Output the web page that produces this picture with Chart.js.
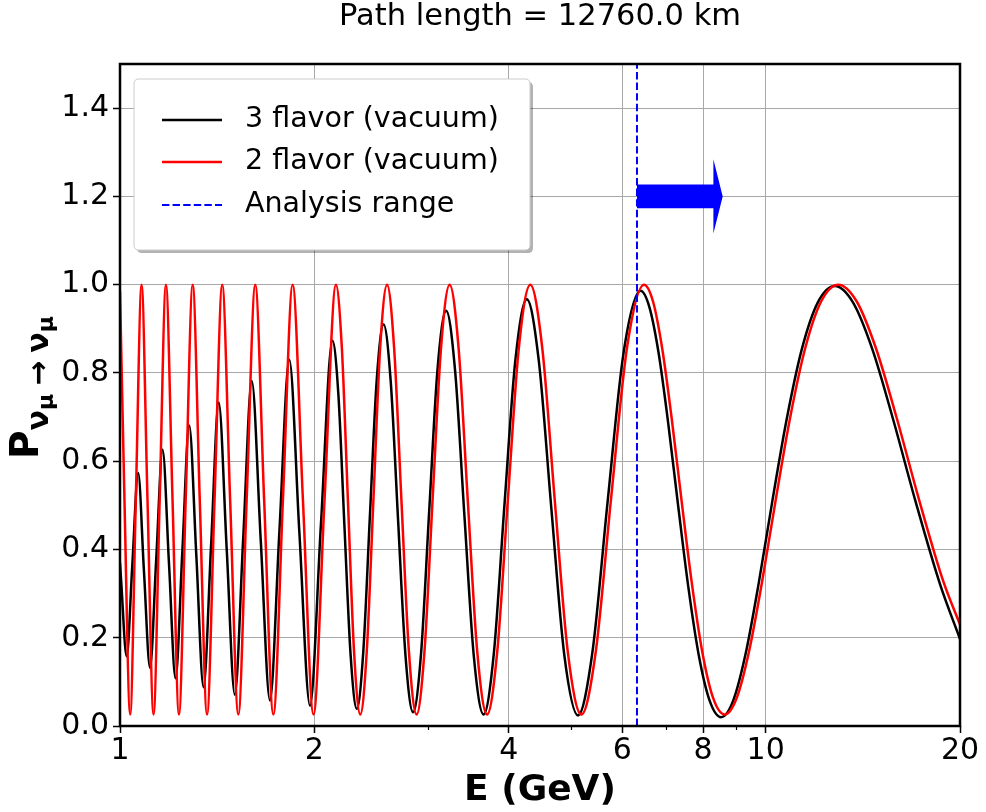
<!DOCTYPE html>
<html>
<head>
<meta charset="utf-8">
<title>Muon neutrino survival probability</title>
<script src="https://cdn.jsdelivr.net/npm/chart.js@4.4.1/dist/chart.umd.min.js"></script>
<style>
  html, body { margin: 0; padding: 0; background: #ffffff; }
  canvas { display: block; }
</style>
</head>
<body>
<canvas id="probChart" width="986" height="812"></canvas>
<script>
// energies (GeV) and survival probability, 3 flavour vacuum curve
const flav3E = [1.000, 1.004, 1.024, 1.045, 1.067, 1.089, 1.113, 1.138, 1.164, 1.191,
  1.219, 1.249, 1.280, 1.313, 1.347, 1.384, 1.422, 1.463, 1.506, 1.552,
  1.600, 1.652, 1.707, 1.766, 1.829, 1.896, 1.969, 2.048, 2.133, 2.179,
  2.226, 2.276, 2.327, 2.381, 2.438, 2.498, 2.560, 2.626, 2.695, 2.768,
  2.844, 2.926, 3.012, 3.103, 3.200, 3.303, 3.413, 3.531, 3.657, 3.793,
  3.938, 4.096, 4.267, 4.452, 4.655, 4.876, 5.120, 5.389, 5.689, 6.024,
  6.400, 6.606, 6.827, 7.062, 7.314, 7.585, 7.877, 8.192, 8.533, 8.904,
  9.309, 9.752, 10.240, 10.779, 11.378, 12.047, 12.800, 13.653, 14.629, 15.754,
  17.067, 18.618, 20.000];
const flav3P = [0.370, 0.330, 0.158, 0.366, 0.573, 0.353, 0.132, 0.379, 0.626, 0.367,
  0.108, 0.395, 0.681, 0.385, 0.088, 0.411, 0.733, 0.402, 0.071, 0.427,
  0.782, 0.420, 0.058, 0.444, 0.830, 0.438, 0.046, 0.460, 0.873, 0.751,
  0.456, 0.161, 0.039, 0.167, 0.475, 0.783, 0.910, 0.781, 0.471, 0.160,
  0.031, 0.164, 0.486, 0.808, 0.941, 0.807, 0.484, 0.160, 0.026, 0.164,
  0.497, 0.829, 0.967, 0.829, 0.496, 0.162, 0.024, 0.165, 0.505, 0.845,
  0.986, 0.949, 0.845, 0.688, 0.503, 0.318, 0.161, 0.057, 0.020, 0.057,
  0.163, 0.322, 0.509, 0.695, 0.854, 0.960, 0.997, 0.960, 0.854, 0.695,
  0.509, 0.322, 0.197];

// 2 flavour vacuum curve
const flav2E = [1.000, 1.016, 1.037, 1.058, 1.080, 1.103, 1.127, 1.152, 1.178, 1.206,
  1.234, 1.264, 1.296, 1.329, 1.364, 1.401, 1.440, 1.481, 1.525, 1.571,
  1.620, 1.672, 1.728, 1.788, 1.851, 1.920, 1.994, 2.074, 2.160, 2.206,
  2.254, 2.304, 2.356, 2.411, 2.469, 2.529, 2.592, 2.658, 2.728, 2.802,
  2.880, 2.962, 3.049, 3.142, 3.240, 3.345, 3.456, 3.575, 3.703, 3.840,
  3.988, 4.147, 4.320, 4.508, 4.713, 4.937, 5.184, 5.457, 5.760, 6.099,
  6.480, 6.689, 6.912, 7.150, 7.406, 7.680, 7.975, 8.294, 8.640, 9.016,
  9.425, 9.874, 10.368, 10.914, 11.520, 12.198, 12.960, 13.824, 14.811, 15.951,
  17.280, 18.851, 20.000];
const flav2P = [0.985, 0.513, 0.026, 0.513, 1.000, 0.513, 0.026, 0.513, 1.000, 0.513,
  0.026, 0.513, 1.000, 0.513, 0.026, 0.513, 1.000, 0.513, 0.026, 0.513,
  1.000, 0.513, 0.026, 0.513, 1.000, 0.513, 0.026, 0.513, 1.000, 0.857,
  0.513, 0.169, 0.026, 0.169, 0.513, 0.857, 1.000, 0.857, 0.513, 0.169,
  0.026, 0.169, 0.513, 0.857, 1.000, 0.857, 0.513, 0.169, 0.026, 0.169,
  0.513, 0.857, 1.000, 0.857, 0.513, 0.169, 0.026, 0.169, 0.513, 0.857,
  1.000, 0.963, 0.857, 0.699, 0.513, 0.327, 0.169, 0.063, 0.026, 0.063,
  0.169, 0.327, 0.513, 0.699, 0.857, 0.963, 1.000, 0.963, 0.857, 0.699,
  0.513, 0.327, 0.230];

const xTicks = [1, 2, 4, 6, 8, 10, 20];
const xMinorTicks = [3, 5, 7, 9];
const yTicks = [0, 0.2, 0.4, 0.6, 0.8, 1.0, 1.2, 1.4];

// analysis range starts here, arrow points to higher energies
const analysisStart = 6.32;
const arrowHeadE = 8.30;
const arrowTipE = 8.58;
const arrowLevel = 1.2;
const arrowShaftHalf = 0.027;
const arrowHeadHalf = 0.084;

const FONT = "'DejaVu Sans', 'Liberation Sans', sans-serif";
const gridColor = '#a8a8a8';

function toPoints(xs, ys) {
    return xs.map((x, i) => ({ x: x, y: ys[i] }));
}

const decor = {
    id: 'decor',
    beforeDraw(chart) {
        const c = chart.ctx;
        c.save();
        c.fillStyle = '#ffffff';
        c.fillRect(0, 0, chart.width, chart.height);
        c.restore();
    },
    afterDatasetsDraw(chart) {
        const c = chart.ctx;
        const xs = chart.scales.x, ys = chart.scales.y;
        const a = chart.chartArea;

        // arrow marking the analysis range
        const x0 = xs.getPixelForValue(analysisStart);
        const xh = xs.getPixelForValue(arrowHeadE);
        const xt = xs.getPixelForValue(arrowTipE);
        const yc = ys.getPixelForValue(arrowLevel);
        const sh = ys.getPixelForValue(arrowLevel - arrowShaftHalf) - yc;
        const hh = ys.getPixelForValue(arrowLevel - arrowHeadHalf) - yc;
        c.save();
        c.fillStyle = '#0000ff';
        c.beginPath();
        c.moveTo(x0, yc - sh);
        c.lineTo(xh, yc - sh);
        c.lineTo(xh, yc - hh);
        c.lineTo(xt, yc);
        c.lineTo(xh, yc + hh);
        c.lineTo(xh, yc + sh);
        c.lineTo(x0, yc + sh);
        c.closePath();
        c.fill();
        c.restore();

        // minor ticks on the energy axis
        c.save();
        c.strokeStyle = '#000000';
        c.lineWidth = 1.2;
        xMinorTicks.forEach(v => {
            const px = Math.round(xs.getPixelForValue(v)) + 0.5;
            c.beginPath();
            c.moveTo(px, a.bottom);
            c.lineTo(px, a.bottom + 4);
            c.stroke();
        });
        c.restore();

        // axes frame
        c.save();
        c.strokeStyle = '#000000';
        c.lineWidth = 2.5;
        c.strokeRect(a.left, a.top, a.right - a.left, a.bottom - a.top);
        c.restore();
    },
    afterDraw(chart) {
        const c = chart.ctx;
        const a = chart.chartArea;
        const cx = (a.left + a.right) / 2;

        // title
        c.save();
        c.fillStyle = '#000000';
        c.font = '30.5px ' + FONT;
        c.textAlign = 'center';
        c.textBaseline = 'alphabetic';
        c.fillText('Path length = 12760.0 km', cx, 25);

        // x axis title
        c.font = 'bold 36px ' + FONT;
        c.fillText('E (GeV)', cx, 800);
        c.restore();

        // y axis title: P with nu_mu -> nu_mu subscript, rotated
        c.save();
        c.fillStyle = '#000000';
        c.rotate(-Math.PI / 2);
        c.textAlign = 'left';
        c.textBaseline = 'alphabetic';
        let pos = -459;
        const part = (txt, size, base, gapAfter) => {
            c.font = 'bold ' + size + 'px ' + FONT;
            c.fillText(txt, pos, base);
            pos += c.measureText(txt).width + (gapAfter || 0);
        };
        part('P', 39, 38);
        part('\u03bd', 30, 48);
        part('\u03bc', 22, 53, 8);
        part('\u2192', 30, 48, 8);
        part('\u03bd', 30, 48);
        part('\u03bc', 22, 53);
        c.restore();

        // legend box
        const lx = 134, ly = 79, lw = 396, lh = 171, r = 5;
        const box = (x, y) => {
            c.beginPath();
            c.moveTo(x + r, y);
            c.lineTo(x + lw - r, y);
            c.quadraticCurveTo(x + lw, y, x + lw, y + r);
            c.lineTo(x + lw, y + lh - r);
            c.quadraticCurveTo(x + lw, y + lh, x + lw - r, y + lh);
            c.lineTo(x + r, y + lh);
            c.quadraticCurveTo(x, y + lh, x, y + lh - r);
            c.lineTo(x, y + r);
            c.quadraticCurveTo(x, y, x + r, y);
            c.closePath();
        };
        c.save();
        c.fillStyle = 'rgba(0,0,0,0.3)';
        box(lx + 3, ly + 3);
        c.fill();
        c.fillStyle = '#ffffff';
        box(lx, ly);
        c.fill();
        c.strokeStyle = '#cccccc';
        c.lineWidth = 1;
        c.stroke();

        const rows = [120, 162, 205];
        chart.data.datasets.forEach((ds, i) => {
            const y = rows[i];
            c.strokeStyle = ds.borderColor;
            c.lineWidth = ds.borderWidth;
            c.setLineDash(ds.borderDash || []);
            c.beginPath();
            c.moveTo(162, y);
            c.lineTo(222, y);
            c.stroke();
            c.setLineDash([]);
            c.fillStyle = '#000000';
            c.font = '28.5px ' + FONT;
            c.textAlign = 'left';
            c.textBaseline = 'middle';
            c.fillText(ds.label, 245, y);
        });
        c.restore();
    }
};

const ctx = document.getElementById('probChart').getContext('2d');
new Chart(ctx, {
    type: 'line',
    data: {
        datasets: [{
            label: '3 flavor (vacuum)',
            data: toPoints(flav3E, flav3P),
            borderColor: '#000000',
            borderWidth: 2.5,
            pointRadius: 0,
            cubicInterpolationMode: 'monotone',
            fill: false,
            order: 2
        }, {
            label: '2 flavor (vacuum)',
            data: toPoints(flav2E, flav2P),
            borderColor: '#ff0000',
            borderWidth: 2.5,
            pointRadius: 0,
            cubicInterpolationMode: 'monotone',
            fill: false,
            order: 1
        }, {
            label: 'Analysis range',
            data: [{ x: analysisStart, y: 0 }, { x: analysisStart, y: 1.5 }],
            borderColor: '#0000ff',
            borderWidth: 2,
            borderDash: [7.4, 3.2],
            pointRadius: 0,
            fill: false,
            order: 0
        }]
    },
    options: {
        responsive: false,
        animation: false,
        devicePixelRatio: 1,
        layout: { padding: { top: 64, right: 26, left: 0, bottom: 0 } },
        plugins: {
            legend: { display: false },
            tooltip: { enabled: false },
            title: { display: false }
        },
        scales: {
            x: {
                type: 'logarithmic',
                min: 1,
                max: 20,
                afterBuildTicks: s => { s.ticks = xTicks.map(v => ({ value: v })); },
                afterFit: s => { s.height = 86; s.paddingLeft = 0; s.paddingRight = 0; },
                ticks: {
                    autoSkip: false,
                    maxRotation: 0,
                    padding: 0,
                    color: '#000000',
                    font: { family: FONT, size: 30 },
                    callback: v => String(v)
                },
                grid: {
                    color: gridColor,
                    lineWidth: 1,
                    tickColor: '#000000',
                    tickLength: 7,
                    tickWidth: 1.5
                },
                border: { display: false }
            },
            y: {
                min: 0,
                max: 1.5,
                afterBuildTicks: s => { s.ticks = yTicks.map(v => ({ value: v })); },
                afterFit: s => { s.width = 120; s.paddingTop = 0; s.paddingBottom = 0; },
                ticks: {
                    padding: 4,
                    color: '#000000',
                    font: { family: FONT, size: 30 },
                    callback: v => v.toFixed(1)
                },
                grid: {
                    color: gridColor,
                    lineWidth: 1,
                    tickColor: '#000000',
                    tickLength: 7,
                    tickWidth: 1.5
                },
                border: { display: false }
            }
        }
    },
    plugins: [decor]
});
</script>
</body>
</html>
